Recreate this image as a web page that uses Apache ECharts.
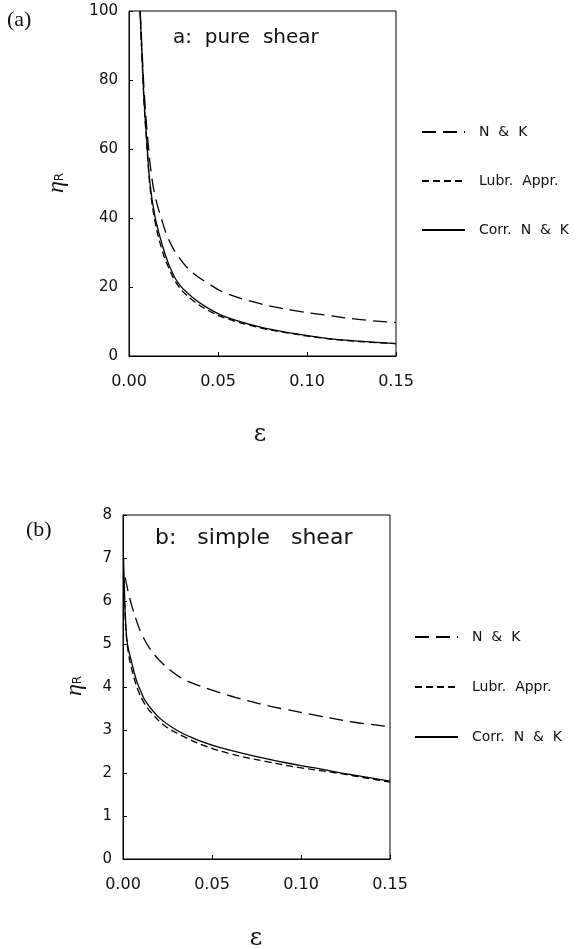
<!DOCTYPE html>
<html><head><meta charset="utf-8">
<script src="https://cdn.jsdelivr.net/npm/echarts@6/dist/echarts.min.js"></script>
<style>html,body{margin:0;padding:0;background:#fff}#c{width:588px;height:949px}</style>
</head><body><div id="c"></div>
<script>
const seriesNames = ['N & K', 'Lubr. Appr.', 'Corr. N & K'];
const xTicks = [0, 0.05, 0.10, 0.15];
const yTicksA = [0, 20, 40, 60, 80, 100];
const yTicksB = [0, 1, 2, 3, 4, 5, 6, 7, 8];

// (a) pure shear : [epsilon, eta_R]
const pureNK = [[0.0063,100],[0.0075,87],[0.0086,76],[0.0105,63],[0.0125,53],[0.0146,46.5],[0.0184,39.5],[0.0221,34],[0.0277,28.8],[0.0352,24.4],[0.0446,21.0],[0.0539,18.3],[0.0727,15.3],[0.0914,13.3],[0.11,11.9],[0.129,10.6],[0.15,9.7]];
const pureLubr = [[0.0062,100],[0.0075,84],[0.0086,72],[0.0099,62],[0.0118,49],[0.0146,39],[0.0184,31],[0.0221,25.8],[0.0277,20.3],[0.0352,16.4],[0.0446,13.2],[0.0539,11.0],[0.0727,8.3],[0.0914,6.5],[0.11,5.1],[0.129,4.2],[0.15,3.6]];
const pureCorr = [[0.0062,100],[0.0075,85],[0.0086,73],[0.0099,63],[0.0118,50],[0.0146,40.4],[0.0184,32.7],[0.0221,26.9],[0.0277,21.1],[0.0352,17.2],[0.0446,13.8],[0.0539,11.4],[0.0727,8.5],[0.0914,6.6],[0.11,5.2],[0.129,4.3],[0.15,3.6]];

// (b) simple shear
const simpleNK = [[0.0012,6.55],[0.003,6.2],[0.005,5.88],[0.0075,5.55],[0.01,5.27],[0.0125,5.07],[0.015,4.9],[0.02,4.64],[0.027,4.38],[0.035,4.16],[0.05,3.93],[0.063,3.76],[0.078,3.6],[0.09,3.49],[0.11,3.33],[0.13,3.18],[0.15,3.08]];
const simpleLubr = [[0.0005,6.5],[0.0015,5.4],[0.003,4.8],[0.005,4.4],[0.0084,3.93],[0.012,3.62],[0.016,3.4],[0.0234,3.1],[0.035,2.83],[0.046,2.63],[0.06,2.45],[0.08,2.27],[0.1,2.12],[0.12,2.0],[0.13,1.93],[0.14,1.86],[0.15,1.79]];
const simpleCorr = [[0.0003,7.0],[0.0008,6.3],[0.0015,5.5],[0.0025,5.0],[0.005,4.55],[0.0075,4.16],[0.01,3.9],[0.0125,3.68],[0.02,3.3],[0.03,3.0],[0.04,2.8],[0.05,2.65],[0.06,2.53],[0.075,2.38],[0.09,2.25],[0.1,2.17],[0.11,2.1],[0.12,2.02],[0.13,1.95],[0.14,1.88],[0.15,1.81]];

const FONT = 'DejaVu Sans';
const chart = echarts.init(document.getElementById('c'), null, {renderer: 'canvas'});

function xAx(gi) {
  return {
    type: 'value', gridIndex: gi, min: xTicks[0], max: xTicks[xTicks.length - 1], interval: 0.05,
    axisLine: {show: true, lineStyle: {color: '#000', width: 1}},
    axisTick: {show: true, inside: true, length: 4, lineStyle: {color: '#000'}},
    splitLine: {show: false},
    axisLabel: {margin: 18, fontFamily: FONT, fontSize: 16, color: '#111', formatter: v => v.toFixed(2)}
  };
}
function yAx(gi, ticks) {
  return {
    type: 'value', gridIndex: gi, min: ticks[0], max: ticks[ticks.length - 1], interval: ticks[1] - ticks[0],
    axisLine: {show: true, lineStyle: {color: '#000', width: 1}},
    axisTick: {show: true, inside: true, length: 4, lineStyle: {color: '#000'}},
    splitLine: {show: false},
    axisLabel: {margin: 11, fontFamily: FONT, fontSize: 15, color: '#111'}
  };
}
const styles = [
  {type: [14, 7], width: 1.3},
  {type: [7, 4], width: 1.3},
  {type: 'solid', width: 1.3}
];
function mk(name, data, gi, st) {
  return {
    name: name, type: 'line', xAxisIndex: gi, yAxisIndex: gi, data: data,
    smooth: 0.4, symbol: 'none', showSymbol: false, clip: true,
    lineStyle: {color: '#000', width: st.width, type: st.type},
    itemStyle: {color: '#000'}, animation: false
  };
}
const legendText = {fontFamily: FONT, fontSize: 14, color: '#111', padding: [0, 0, 0, 9]};
const legendFmt = name => name.replace(/ /g, '  ');

chart.setOption({
  backgroundColor: '#fff',
  animation: false,
  grid: [
    {left: 129, top: 11, width: 267, height: 345, show: true, borderColor: '#000', borderWidth: 1, backgroundColor: 'transparent'},
    {left: 123, top: 515, width: 267, height: 344, show: true, borderColor: '#000', borderWidth: 1, backgroundColor: 'transparent'}
  ],
  xAxis: [xAx(0), xAx(1)],
  yAxis: [yAx(0, yTicksA), yAx(1, yTicksB)],
  legend: [
    {data: seriesNames, orient: 'vertical', left: 416, top: 120, itemWidth: 43, itemHeight: 14, itemGap: 35,
     itemStyle: {opacity: 0}, textStyle: legendText, formatter: legendFmt, selectedMode: false},
    {data: seriesNames, orient: 'vertical', left: 409, top: 625, itemWidth: 43, itemHeight: 14, itemGap: 36,
     itemStyle: {opacity: 0}, textStyle: legendText, formatter: legendFmt, selectedMode: false}
  ],
  series: [
    mk(seriesNames[0], pureNK, 0, styles[0]),
    mk(seriesNames[1], pureLubr, 0, styles[1]),
    mk(seriesNames[2], pureCorr, 0, styles[2]),
    mk(seriesNames[0], simpleNK, 1, styles[0]),
    mk(seriesNames[1], simpleLubr, 1, styles[1]),
    mk(seriesNames[2], simpleCorr, 1, styles[2])
  ],
  graphic: [
    {type: 'text', left: 7, top: 9, style: {text: '(a)', font: '22px "Liberation Serif"', fill: '#111'}},
    {type: 'text', left: 26, top: 519, style: {text: '(b)', font: '22px "Liberation Serif"', fill: '#111'}},
    {type: 'text', left: 173, top: 28, style: {text: 'a:  pure  shear', font: '20px "DejaVu Sans"', fill: '#111'}},
    {type: 'text', left: 155, top: 527, style: {text: 'b:   simple   shear', font: '22px "DejaVu Sans"', fill: '#111'}},
    {type: 'text', x: 57, y: 183, rotation: Math.PI / 2,
     style: {text: '{a|η}{b|R}', align: 'center', verticalAlign: 'middle',
       rich: {a: {font: 'italic 24px "Liberation Serif"', fill: '#111'}, b: {font: '12px "DejaVu Sans"', fill: '#111', padding: [6, 0, 0, 0]}}}},
    {type: 'text', x: 75, y: 686, rotation: Math.PI / 2,
     style: {text: '{a|η}{b|R}', align: 'center', verticalAlign: 'middle',
       rich: {a: {font: 'italic 24px "Liberation Serif"', fill: '#111'}, b: {font: '12px "DejaVu Sans"', fill: '#111', padding: [6, 0, 0, 0]}}}},
    {type: 'text', x: 260, y: 435, style: {text: 'ε', align: 'center', verticalAlign: 'middle', font: '24px "DejaVu Serif"', fill: '#111'}},
    {type: 'text', x: 256, y: 939, style: {text: 'ε', align: 'center', verticalAlign: 'middle', font: '24px "DejaVu Serif"', fill: '#111'}}
  ]
});
</script>
</body></html>
